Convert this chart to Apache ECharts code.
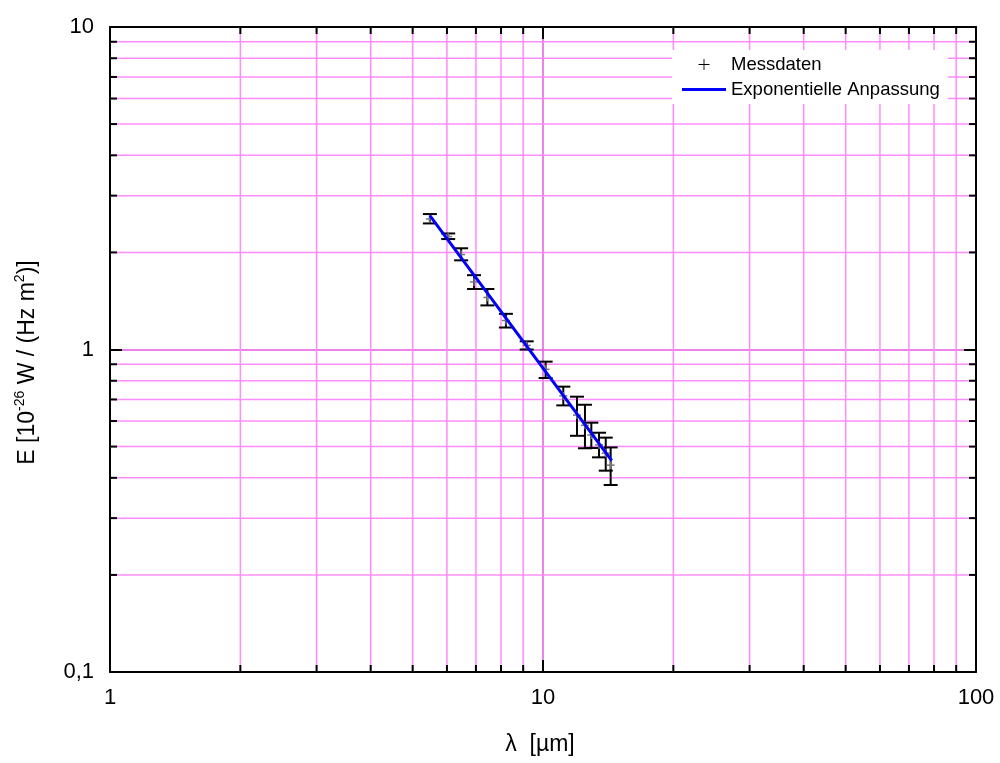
<!DOCTYPE html>
<html>
<head>
<meta charset="utf-8">
<script src="https://cdn.jsdelivr.net/npm/echarts@6/dist/echarts.min.js"></script>
<style>
  html, body { margin: 0; padding: 0; background: #fff; }
  #main { width: 1000px; height: 763px; }
</style>
</head>
<body>
<div id="main"></div>
<script>
// Messdaten: Wellenlaenge, Wert, untere / obere Fehlergrenze
const lambda = [5.48, 6.04, 6.47, 6.93, 7.44, 8.21, 9.17, 10.14, 11.14, 11.98, 12.50, 12.93, 13.47, 13.96, 14.33];
const eValue = [2.54, 2.24, 1.97, 1.62, 1.45, 1.23, 1.03, 0.868, 0.718, 0.626, 0.582, 0.543, 0.506, 0.477, 0.438];
const eLow = [2.46, 2.20, 1.89, 1.54, 1.37, 1.17, 1.00, 0.816, 0.671, 0.540, 0.494, 0.495, 0.463, 0.421, 0.380];
const eHigh = [2.63, 2.29, 2.06, 1.70, 1.54, 1.29, 1.06, 0.917, 0.767, 0.714, 0.674, 0.593, 0.552, 0.533, 0.497];

// exponentielle Anpassung
const fitX = [5.48, 10, 14.41];
const fitY = [2.60, 0.876, 0.452];

// Hilfslinien
const xMinor = [2, 3, 4, 5, 6, 7, 8, 9, 20, 30, 40, 50, 60, 70, 80, 90];
const yMinor = [0.2, 0.3, 0.4, 0.5, 0.6, 0.7, 0.8, 0.9, 2, 3, 4, 5, 6, 7, 8, 9];

const FONT = 'Liberation Sans, Arial, sans-serif';
const GRID_PINK = '#ff8cff';
const GRID_MAJOR = '#e45ae4';

let chart = echarts.init(document.getElementById('main'));

// Minor-Gitterlinien + kurze Striche am Rahmen
const minorGrid = (dir) => (params, api) => {
  const cs = params.coordSys;
  const lineStyle = { stroke: GRID_PINK, lineWidth: 1.5 };
  const tickStyle = { stroke: '#000', lineWidth: 2 };
  const tl = 7;
  if (dir === 'x') {
    const px = api.coord([api.value(0), 1])[0];
    return {
      type: 'group',
      children: [
        { type: 'line', shape: { x1: px, y1: cs.y, x2: px, y2: cs.y + cs.height }, style: lineStyle },
        { type: 'line', shape: { x1: px, y1: cs.y, x2: px, y2: cs.y + tl }, style: tickStyle },
        { type: 'line', shape: { x1: px, y1: cs.y + cs.height, x2: px, y2: cs.y + cs.height - tl }, style: tickStyle }
      ]
    };
  }
  const py = api.coord([1, api.value(1)])[1];
  return {
    type: 'group',
    children: [
      { type: 'line', shape: { x1: cs.x, y1: py, x2: cs.x + cs.width, y2: py }, style: lineStyle },
      { type: 'line', shape: { x1: cs.x, y1: py, x2: cs.x + tl, y2: py }, style: tickStyle },
      { type: 'line', shape: { x1: cs.x + cs.width, y1: py, x2: cs.x + cs.width - tl, y2: py }, style: tickStyle }
    ]
  };
};

const errorBar = (params, api) => {
  const x = api.value(0);
  const c = api.coord([x, api.value(1)]);
  const lo = api.coord([x, api.value(2)]);
  const hi = api.coord([x, api.value(3)]);
  const hw = 7;
  const st = { stroke: '#000', lineWidth: 2 };
  return {
    type: 'group',
    children: [
      { type: 'line', shape: { x1: lo[0], y1: lo[1], x2: hi[0], y2: hi[1] }, style: st },
      { type: 'line', shape: { x1: lo[0] - hw, y1: lo[1], x2: lo[0] + hw, y2: lo[1] }, style: st },
      { type: 'line', shape: { x1: hi[0] - hw, y1: hi[1], x2: hi[0] + hw, y2: hi[1] }, style: st },
      // Messpunkt "+"
      { type: 'line', shape: { x1: c[0] - 4, y1: c[1], x2: c[0] + 4, y2: c[1] }, style: { stroke: '#777', lineWidth: 1.5 } },
      { type: 'line', shape: { x1: c[0], y1: c[1] - 4, x2: c[0], y2: c[1] + 4 }, style: { stroke: '#777', lineWidth: 1.5 } }
    ]
  };
};

const axisX = (pos, show) => ({
  type: 'log',
  logBase: 10,
  min: 1,
  max: 100,
  position: pos,
  name: show ? 'λ  [µm]' : '',
  nameLocation: 'middle',
  nameGap: 61,
  nameTextStyle: { fontFamily: FONT, fontSize: 23, color: '#000', padding: [0, 6, 0, 0] },
  axisLine: { show: true, onZero: false, lineStyle: { color: '#000', width: 2 } },
  axisTick: { show: true, inside: true, length: 12, lineStyle: { color: '#000', width: 2 } },
  axisLabel: { show: show, margin: 15, fontFamily: FONT, fontSize: 22, color: '#000' },
  splitLine: { show: show, lineStyle: { color: GRID_MAJOR, width: 1.5 } }
});

const axisY = (pos, show) => ({
  type: 'log',
  logBase: 10,
  min: 0.1,
  max: 10,
  position: pos,
  name: show ? 'E [10{sup|-26} W / (Hz m{sup|2})]' : '',
  nameLocation: 'middle',
  nameRotate: 90,
  nameGap: 67,
  nameTextStyle: {
    fontFamily: FONT,
    fontSize: 23,
    color: '#000',
    padding: [0, 26, 0, 0],
    rich: {
      sup: { fontFamily: FONT, fontSize: 14, color: '#000', padding: [0, 0, 16, 0] }
    }
  },
  axisLine: { show: true, onZero: false, lineStyle: { color: '#000', width: 2 } },
  axisTick: { show: true, inside: true, length: 12, lineStyle: { color: '#000', width: 2 } },
  axisLabel: {
    show: show,
    margin: 16,
    fontFamily: FONT,
    fontSize: 22,
    color: '#000',
    formatter: (v) => String(v).replace('.', ',')
  },
  splitLine: { show: show, lineStyle: { color: GRID_MAJOR, width: 1.5 } }
});

let option = {
  backgroundColor: '#fff',
  animation: false,
  grid: { left: 110, right: 24, top: 27, bottom: 91 },
  xAxis: [axisX('bottom', true), axisX('top', false)],
  yAxis: [axisY('left', true), axisY('right', false)],
  legend: {
    orient: 'vertical',
    left: 672,
    top: 50,
    padding: [5, 8, 5, 10],
    itemGap: 6,
    itemWidth: 44,
    itemHeight: 11,
    backgroundColor: '#fff',
    textStyle: { fontFamily: FONT, fontSize: 18.5, color: '#000' },
    data: [
      { name: 'Messdaten', icon: 'path://M4.6,0h0.8v10h-0.8zM0,4.6h10v0.8h-10z', itemStyle: { color: '#000' } },
      { name: 'Exponentielle Anpassung', icon: 'path://M0,0h44v3h-44z', itemStyle: { color: '#0000ff' } }
    ]
  },
  series: [
    {
      type: 'custom',
      name: 'gridX',
      silent: true,
      z: 1,
      renderItem: minorGrid('x'),
      data: xMinor.map((v) => [v, 1])
    },
    {
      type: 'custom',
      name: 'gridY',
      silent: true,
      z: 1,
      renderItem: minorGrid('y'),
      data: yMinor.map((v) => [1, v])
    },
    {
      type: 'custom',
      name: 'Messdaten',
      z: 3,
      renderItem: errorBar,
      encode: { x: 0, y: [1, 2, 3] },
      data: lambda.map((x, i) => [x, eValue[i], eLow[i], eHigh[i]])
    },
    {
      type: 'line',
      name: 'Exponentielle Anpassung',
      z: 4,
      showSymbol: false,
      lineStyle: { color: '#0000ff', width: 3 },
      itemStyle: { color: '#0000ff' },
      data: fitX.map((x, i) => [x, fitY[i]])
    }
  ]
};

chart.setOption(option);
</script>
</body>
</html>
